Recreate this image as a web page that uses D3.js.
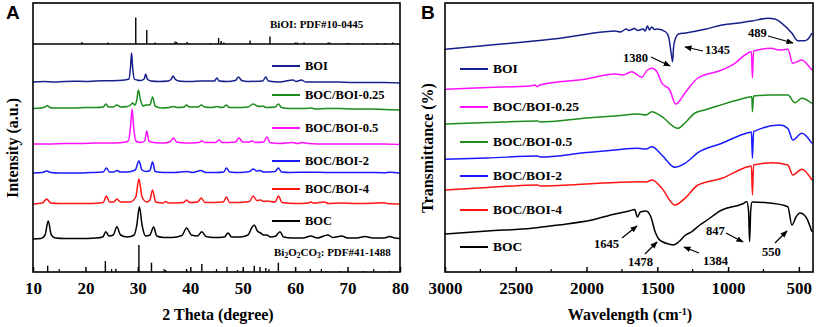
<!DOCTYPE html>
<html>
<head>
<meta charset="utf-8">
<script src="https://cdn.jsdelivr.net/npm/d3@7"></script>
<style>
  html, body { margin: 0; padding: 0; background: #fff; }
  svg { display: block; }
  text { font-family: "Liberation Serif", "Times New Roman", serif; font-weight: bold; }
</style>
</head>
<body>
<div id="chart"></div>
<script>
// ---- data (intensity / transmittance in arbitrary units) ----

const sampleNames = ["BOI", "BOC/BOI-0.25", "BOC/BOI-0.5", "BOC/BOI-2", "BOC/BOI-4", "BOC"];
// the two panels swap the colours of the 0.25 and 0.5 samples
const xrdColors = ["#16208c", "#1c8c1c", "#ff10ff", "#1a1aff", "#ff1414", "#000000"];
const irColors = ["#16208c", "#ff10ff", "#1c8c1c", "#1a1aff", "#ff1414", "#000000"];

// reference patterns: [2theta, line height]
const biOIRef = [[19.35,2],[24.3,1.5],[29.6,26.5],[31.7,14],[33.3,1.5],[37.1,2.5],[37.4,2],[39.4,2],[43.8,1],
  [45.4,6],[45.9,3],[46.4,1.5],[51.4,3.5],[55.2,7.5],[60.0,1.5],[60.4,1.5],[61.7,1.5],[66.3,1.5],[66.6,1.5],
  [69.8,1],[70.2,1],[73.0,1],[75.6,1],[77.1,1],[78.6,1.5]];
const bocRef = [[12.8,6.3],[23.8,11],[25.8,3.3],[30.2,27],[32.6,9.3],[35.3,2],[39.3,3],[42.2,8],[47.0,5.3],
  [49.0,2],[52.2,6.3],[53.3,5],[54.4,4],[56.8,9.3],[62.9,3],[65.9,1],[68.5,1],[73,1],[78,1]];

// XRD patterns: [2theta, intensity]
const xrdBOI = [[10,190],[12,190.5],[14,190],[16,190.6],[18,190.8],[20,190.5],[22,191],[24,191.2],[26,191.5],[27.5,192],
  [28.3,193],[28.6,205],[28.8,219],[29.0,205],[29.3,193],[29.8,192],[30.5,191.5],[31.2,193],[31.5,198],[31.8,193],
  [32.5,191],[34,190.5],[35.8,191],[36.4,193],[36.7,196],[37.1,193],[37.8,191],[40,190.5],[42,191],[44.6,191],
  [45.1,194],[45.5,191],[47,190.5],[48.6,191.5],[49.2,195],[49.8,191.5],[51,190.5],[53.8,191],[54.4,195],[54.9,191],
  [57,190],[59.6,192],[60.2,190.5],[61.2,192],[62,190],[65,190],[68,190],[71,189.5],[74,189.5],[77,189.5],[80,189]];
const xrd025 = [[10,163.5],[11.5,164],[12.3,165],[12.7,166.5],[13.2,164.5],[14,164],[16,164],[18,164],[20,164.5],
  [22,164.5],[23.4,165],[23.9,168],[24.4,165],[25.3,165],[26,167],[26.7,165],[28,165.5],[28.6,167],[29.0,169],
  [29.4,167],[29.8,172],[30.1,182],[30.5,172],[31.0,166],[31.5,167],[32.3,167],[32.8,175],[33.3,166],[34.5,164],
  [36,164.5],[36.8,165.5],[37.5,164.5],[38.8,165],[39.3,167],[39.8,165],[41.5,165],[42.1,167],[42.7,165],[44,164.5],
  [45.2,165.5],[45.8,164.5],[46.4,165],[46.9,167],[47.4,164.5],[49,164.5],[51,165],[52,168],[52.8,166],[53.4,165.5],
  [53.8,166],[54.5,164.5],[56.2,165],[56.8,168],[57.4,164.5],[59,163.5],[62,163.5],[63,164],[64,163],[66,163.5],
  [68.5,163.5],[71,163],[74,163],[77,162.5],[80,162]];
const xrd05 = [[10,128],[13,128],[16,128.5],[19,128.5],[22,129],[25,129],[27,129.5],[28.2,131],[28.6,145],[28.9,163],
  [29.2,145],[29.6,131],[30.5,129.5],[31.3,131],[31.7,141],[32.1,131],[33,129.5],[35,129],[36.2,130.5],[36.8,134],
  [37.4,130],[39,129],[41.6,129.5],[42.2,131],[42.8,129.5],[44.8,129.5],[45.5,132],[46.1,129.5],[48.6,130],[49.3,134],
  [50,130],[51.2,130],[51.8,131],[52.4,129.5],[54,130],[54.6,135],[55.2,129.5],[57,128.5],[59.5,129.5],[60.5,128.5],
  [61.3,129.5],[62.5,128.5],[66,128],[70,128],[74,128],[77,128],[80,127.5]];
const xrd2 = [[10,99],[11.8,99.5],[12.6,101],[13.4,99.5],[15,99],[18,99],[21,99.5],[23.4,100],[24,104],[24.6,100],
  [25.4,100],[26,101.5],[26.7,100],[28,100],[29.5,102],[30.2,111],[30.8,102],[31.6,100.5],[32.3,101.5],[32.8,110],
  [33.3,100.5],[35,99.5],[37,99.5],[39.3,100.5],[40.5,99.5],[42,101.5],[43,99.5],[45,99.5],[46.4,100],[46.9,104],
  [47.5,100],[49.5,99.5],[51.3,100.5],[52,103],[52.7,101],[53.3,101.5],[54,100],[56.2,100.5],[56.8,104],[57.4,100],
  [59,99.5],[63,99.8],[66,99.5],[70,99.5],[73,99.5],[77,99.3],[78,99.8],[80,99]];
const xrd4 = [[10,68],[11.8,69],[12.6,73],[13.4,69],[15,68.5],[18,68.5],[21,68.5],[23.4,69.5],[24,76],[24.6,70],
  [25.4,70],[26,73],[26.7,70],[28.5,70],[29.6,75],[30.2,93],[30.8,75],[31.7,70],[32.3,72],[32.8,82],[33.4,70],
  [34.8,69],[35.3,70.5],[35.8,69],[38.7,69.5],[39.3,72],[39.9,69.5],[41.4,70],[42.1,74],[42.8,69.5],[46.3,70],
  [46.9,75],[47.5,69.5],[49,69.5],[51.3,70.5],[52,76],[52.7,71.5],[53.4,72],[54,70.5],[54.5,71],[56.2,70],[56.8,76],
  [57.5,69.5],[60,68.5],[62.5,69],[63,70],[63.6,68.8],[65.6,70],[66.4,68.5],[68.5,69],[72,68.5],[74.5,68.7],
  [77,69.3],[77.6,68.5],[80,68]];
const xrdBOC = [[10,33],[11.5,33.5],[12.3,37],[12.9,51],[13.5,37],[14.3,34],[16,33.5],[19,33.5],[22,34],[23.3,35],
  [23.9,40.3],[24.5,36],[25.3,37],[26,45.3],[26.7,37],[28,35],[29.3,37],[29.8,47],[30.3,65.3],[30.8,47],[31.5,36],
  [32.3,37],[33,45],[33.6,36],[35,34.5],[36.5,34.5],[38.4,36.5],[39.3,44],[40.2,37],[41.4,36],[42.2,40.3],[43,35.5],
  [44.5,34.5],[46.5,35],[47.2,39],[47.9,35],[49.5,35],[51,37],[51.7,44],[52.2,47],[52.8,41],[53.4,39],[54,37],
  [54.6,37],[55.3,35],[56.3,36],[57.1,40.3],[57.8,35],[59.5,34],[61.5,34],[63,36],[64.2,34],[66.2,37],[67.2,34.5],
  [68.9,36],[70,34],[71.8,34],[73.3,35.5],[74.8,34],[77,34],[78,35.5],[79,34],[80,33.5]];

// FTIR spectra: [wavenumber, transmittance]
const irBOI = [[3000,222.7],[2600,228],[2200,233.5],[1870,240.3],[1800,241],[1760,240],[1720,243],[1700,241.5],
  [1660,243.5],[1640,241.5],[1600,243],[1585,241],[1570,246],[1555,242],[1540,245],[1520,242.5],[1500,243],
  [1440,240],[1420,235],[1398,215],[1392,210.3],[1385,225],[1375,232],[1350,238],[1300,239],[1164,242.7],
  [1044,247],[900,249.5],[832,251],[719,253.7],[670,253],[620,248.7],[550,239],[507,231.3],[458,231.3],
  [422,235.3],[408,239]];
const ir025 = [[3000,182.7],[2700,184.5],[2400,186],[2364,187],[2350,185.3],[2330,187],[2000,193],[1800,198],
  [1740,197],[1700,199.5],[1680,200.3],[1610,194.7],[1570,202],[1538,203.7],[1503,200.3],[1468,189],[1412,182],
  [1370,168],[1305,179],[1213,194],[1044,202],[952,208.7],[881,217],[835,220.3],[828,194],[820,221],[697,223.7],
  [640,222],[578,222.7],[543,208.7],[479,212],[437,207],[408,202]];
const ir05 = [[3000,148],[2700,149.5],[2343,151],[2330,150],[2000,154],[1800,156],[1637,158],[1580,157],[1538,160.3],
  [1468,155.3],[1355,143.7],[1305,149],[1234,159],[1164,162],[931,172],[832,175.3],[828,160.3],[820,176],[690,177],
  [578,177],[528,169.3],[479,173.7],[408,168.7]];
const ir2 = [[3000,112.7],[2700,114],[2343,116],[2330,115],[2000,119.5],[1800,122],[1637,123.7],[1580,123],
  [1538,125.3],[1468,117],[1376,104.7],[1305,108.7],[1213,119.3],[1044,128.7],[860,139.3],[835,140],[828,113.7],
  [820,140.3],[634,147],[578,143.7],[543,132],[479,138.7],[408,128.7]];
const ir4 = [[3000,82],[2700,84.5],[2343,87],[2330,86],[2000,88],[1800,89.5],[1637,90.3],[1580,90],[1538,92],
  [1468,83.7],[1376,67],[1305,73.7],[1213,87],[1044,93.7],[860,105.3],[835,106],[828,77],[820,107],[690,109.3],
  [578,107],[543,97],[479,102.7],[408,92]];
const irBOC = [[3000,38],[2700,41],[2386,43.7],[2200,47],[1962,52],[1800,58],[1700,61],[1660,62.5],[1640,55],
  [1620,60],[1580,61],[1545,55],[1515,40],[1490,33],[1460,30],[1420,28],[1390,27],[1350,30],[1300,37],[1256,40.3],
  [1200,47],[1164,50.3],[1044,62],[900,68],[867,70.3],[855,60],[848,30.3],[840,62],[830,70],[690,68.7],[578,65.3],
  [549,47],[520,55],[493,59],[450,55],[408,40.3]];

const xrdSeries = [xrdBOI, xrd025, xrd05, xrd2, xrd4, xrdBOC];
const irSeries = [irBOI, ir025, ir05, ir2, ir4, irBOC];

const xrdTicks = [10, 20, 30, 40, 50, 60, 70, 80];
const irTicks = [3000, 2500, 2000, 1500, 1000, 500];

// ---- layout ----
const width = 816, height = 327;
const plotTop = 3, plotBottom = 272;
const legendYA = [66, 95, 128, 161, 189, 221];
const legendYB = [69, 107, 142, 176, 210, 247];

// annotations on panel B (label, text x, baseline y, arrow from, arrow to) in px
const irNotes = [
  ["1380", 623, 62, [651, 57], [670, 66]],
  ["1345", 705, 54, [703, 51], [685, 47]],
  ["489", 748, 37, [768, 36], [793, 43]],
  ["1645", 594, 248, [622, 238], [637, 226]],
  ["1478", 628, 266, [645, 254], [657, 242]],
  ["1384", 703, 265, [699, 253], [684, 247]],
  ["847", 706, 235, [726, 233], [743, 242]],
  ["550", 762, 256, [775, 243], [787, 231]]
];

const svg = d3.select("#chart").append("svg")
  .attr("width", width)
  .attr("height", height)
  .attr("viewBox", [0, 0, width, height]);

svg.append("defs").append("marker")
  .attr("id", "arrow")
  .attr("viewBox", "0 0 10 10")
  .attr("refX", 9).attr("refY", 5)
  .attr("markerWidth", 6).attr("markerHeight", 6)
  .attr("orient", "auto")
  .append("path")
  .attr("d", "M0,1 L10,5 L0,9 Z")
  .attr("fill", "#000");

const yScale = d3.scaleLinear().domain([0, 269]).range([plotBottom, plotTop]);

function drawPanel(opts) {
  const { x, ticks, minorTicks, series, colors, legendY, legendX, title, letter, letterX, ytitle, ytitleX, xtitleX, legendSize } = opts;
  const g = svg.append("g");

  const line = d3.line()
    .x(d => x(d[0]))
    .y(d => yScale(d[1]))
    .curve(d3.curveMonotoneX);

  g.selectAll("path.curve")
    .data(series)
    .join("path")
    .attr("class", "curve")
    .attr("fill", "none")
    .attr("stroke", (d, i) => colors[i])
    .attr("stroke-width", 1.5)
    .attr("stroke-linejoin", "round")
    .attr("d", line);

  // legend
  const lg = g.selectAll("g.legend")
    .data(sampleNames)
    .join("g")
    .attr("class", "legend")
    .attr("transform", (d, i) => `translate(${legendX},${legendY[i]})`);
  lg.append("line")
    .attr("x1", 0).attr("x2", 28)
    .attr("stroke", (d, i) => colors[i])
    .attr("stroke-width", 2);
  lg.append("text")
    .attr("x", 33).attr("dy", "0.33em")
    .attr("font-size", legendSize)
    .text(d => d);

  // axis
  const axis = d3.axisBottom(x)
    .tickValues(ticks)
    .tickSizeInner(-5)
    .tickSizeOuter(0)
    .tickPadding(10)
    .tickFormat(d3.format("d"));
  const ax = g.append("g")
    .attr("transform", `translate(0,${plotBottom})`)
    .call(axis);
  ax.select(".domain").remove();
  ax.selectAll(".tick line").attr("stroke", "#000").attr("stroke-width", 1.5);
  ax.selectAll(".tick text")
    .attr("font-size", 17)
    .attr("font-family", "Liberation Serif, serif")
    .attr("font-weight", "bold")
    .attr("fill", "#000");

  g.selectAll("line.minor")
    .data(minorTicks)
    .join("line")
    .attr("class", "minor")
    .attr("x1", d => x(d)).attr("x2", d => x(d))
    .attr("y1", plotBottom).attr("y2", plotBottom - 3)
    .attr("stroke", "#000").attr("stroke-width", 1.2);

  // frame
  const [x0, x1] = x.range();
  g.append("rect")
    .attr("x", x0).attr("y", plotTop)
    .attr("width", x1 - x0).attr("height", plotBottom - plotTop)
    .attr("fill", "none")
    .attr("stroke", "#000")
    .attr("stroke-width", 1.6);

  g.append("text")
    .attr("x", xtitleX).attr("y", 320)
    .attr("text-anchor", "middle")
    .attr("font-size", 16)
    .call(title);

  g.append("text")
    .attr("transform", `translate(${ytitleX},148) rotate(-90)`)
    .attr("text-anchor", "middle")
    .attr("font-size", 16)
    .text(ytitle);

  g.append("text")
    .attr("x", letterX).attr("y", 19)
    .attr("font-size", 19)
    .style("font-family", "Liberation Sans, Arial, sans-serif")
    .text(letter);

  return g;
}

// ---- panel A: XRD ----
const xA = d3.scaleLinear().domain([10, 80]).range([33, 400]);
const gA = drawPanel({
  x: xA,
  ticks: xrdTicks,
  minorTicks: d3.range(15, 80, 10),
  series: xrdSeries,
  colors: xrdColors,
  legendY: legendYA,
  legendX: 272,
  legendSize: 12.5,
  letter: "A",
  letterX: 6,
  ytitle: "Intensity (a.u.)",
  ytitleX: 18,
  xtitleX: 218,
  title: t => t.text("2 Theta (degree)")
});

// reference line patterns
const biOIBase = 228;
gA.append("line")
  .attr("x1", xA(10)).attr("x2", xA(80))
  .attr("y1", yScale(biOIBase)).attr("y2", yScale(biOIBase))
  .attr("stroke", "#000").attr("stroke-width", 1.5);
gA.selectAll("line.refTop")
  .data(biOIRef)
  .join("line")
  .attr("class", "refTop")
  .attr("x1", d => xA(d[0])).attr("x2", d => xA(d[0]))
  .attr("y1", yScale(biOIBase)).attr("y2", d => yScale(biOIBase + d[1]))
  .attr("stroke", "#000").attr("stroke-width", 1.4);
gA.selectAll("line.refBot")
  .data(bocRef)
  .join("line")
  .attr("class", "refBot")
  .attr("x1", d => xA(d[0])).attr("x2", d => xA(d[0]))
  .attr("y1", yScale(0)).attr("y2", d => yScale(d[1]))
  .attr("stroke", "#000").attr("stroke-width", 1.4);

gA.append("text")
  .attr("x", 270).attr("y", 28)
  .attr("font-size", 11)
  .text("BiOI: PDF#10-0445");

const bocLabel = gA.append("text")
  .attr("x", 274).attr("y", 256)
  .attr("font-size", 11);
[["Bi", 0], ["2", 1], ["O", 0], ["2", 1], ["CO", 0], ["3", 1], [": PDF#41-1488", 0]].forEach(([s, sub]) => {
  bocLabel.append("tspan")
    .attr("font-size", sub ? 7.5 : 11)
    .attr("baseline-shift", sub ? "-25%" : null)
    .text(s);
});

// ---- panel B: FTIR ----
const xB = d3.scaleLinear().domain([3000, 400]).range([445, 813]);
const gB = drawPanel({
  x: xB,
  ticks: irTicks,
  minorTicks: d3.range(2750, 400, -500),
  series: irSeries,
  colors: irColors,
  legendY: legendYB,
  legendX: 460,
  legendSize: 13.5,
  letter: "B",
  letterX: 421,
  ytitle: "Transmittance (%)",
  ytitleX: 433,
  xtitleX: 630,
  title: t => {
    t.append("tspan").text("Wavelength (cm");
    t.append("tspan").attr("font-size", 10).attr("baseline-shift", "55%").text("-1");
    t.append("tspan").text(")");
  }
});

const notes = gB.selectAll("g.note")
  .data(irNotes)
  .join("g")
  .attr("class", "note");
notes.append("line")
  .attr("x1", d => d[3][0]).attr("y1", d => d[3][1])
  .attr("x2", d => d[4][0]).attr("y2", d => d[4][1])
  .attr("stroke", "#000").attr("stroke-width", 1.2)
  .attr("marker-end", "url(#arrow)");
notes.append("text")
  .attr("x", d => d[1]).attr("y", d => d[2])
  .attr("font-size", 12.5)
  .text(d => d[0]);
</script>
</body>
</html>
